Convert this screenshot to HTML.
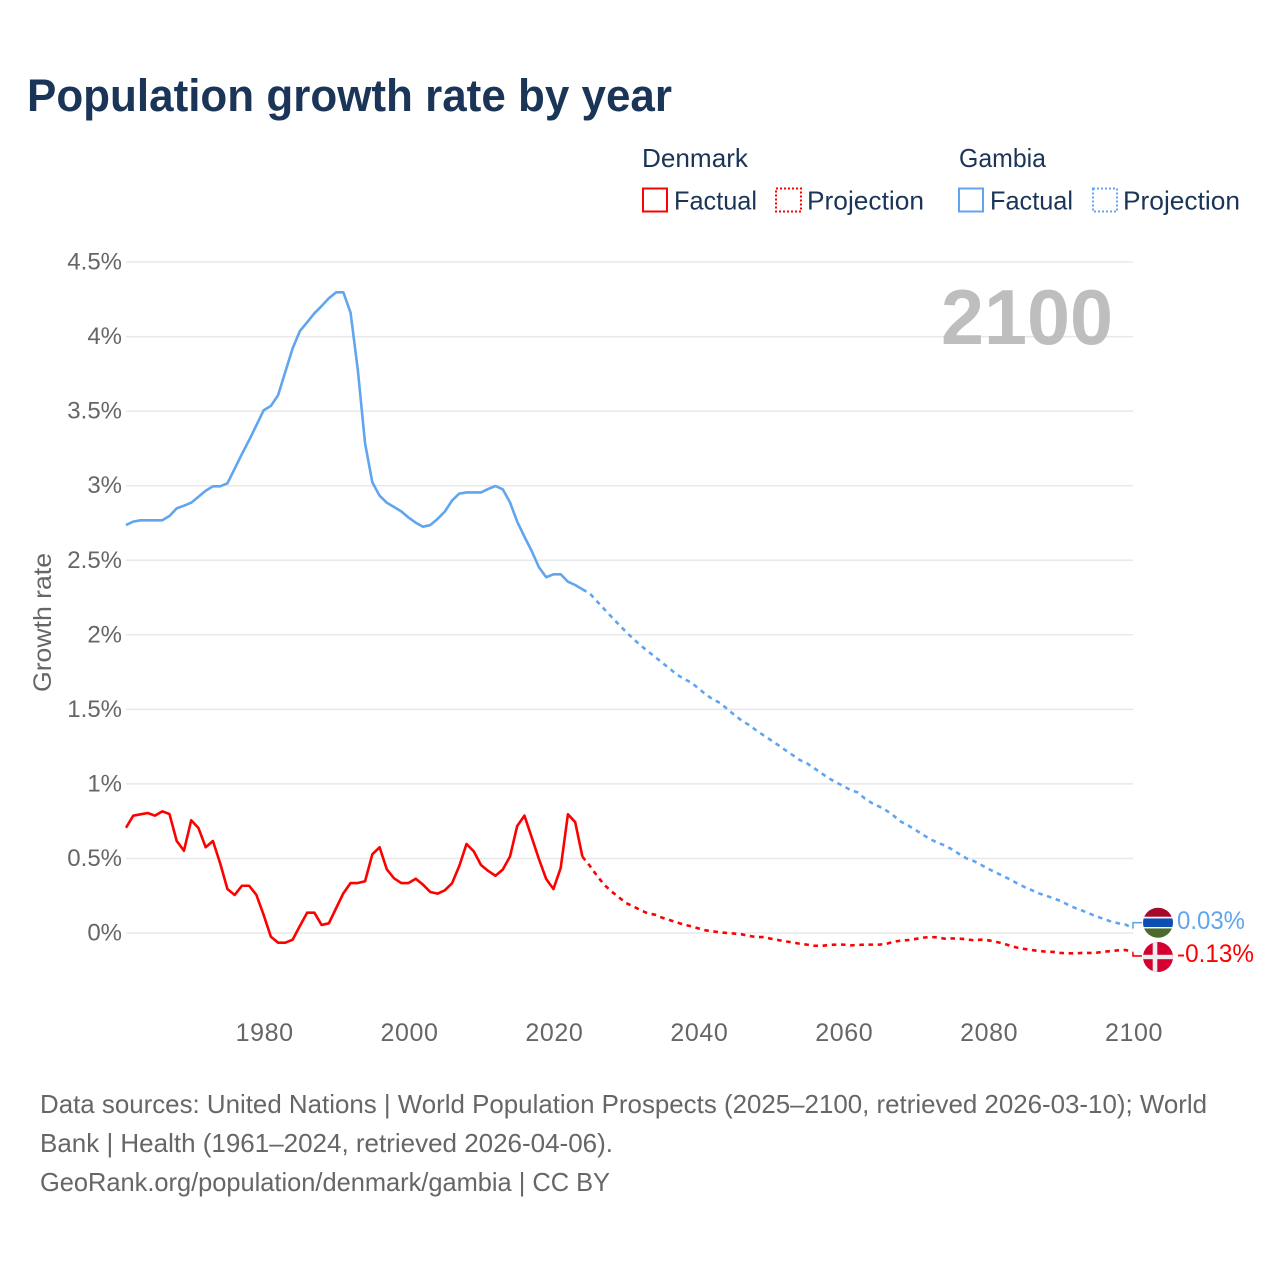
<!DOCTYPE html>
<html lang="en">
<head>
<meta charset="utf-8">
<title>Population growth rate by year</title>
<style>
html,body{margin:0;padding:0;background:#fff;width:1280px;height:1280px;overflow:hidden}
svg{display:block}
text{font-family:"Liberation Sans",sans-serif}
</style>
</head>
<body>
<svg id="chart" width="1280" height="1280" viewBox="0 0 1280 1280" xmlns="http://www.w3.org/2000/svg">
  <text x="27" y="111" font-size="45" font-weight="700" fill="#1a3557" textLength="645" lengthAdjust="spacingAndGlyphs">Population growth rate by year</text>

  <g font-size="26" fill="#1a3557">
    <text x="642" y="167" textLength="106" lengthAdjust="spacingAndGlyphs">Denmark</text>
    <text x="959" y="167" textLength="87" lengthAdjust="spacingAndGlyphs">Gambia</text>
    <rect x="643" y="188.5" width="24" height="23" fill="none" stroke="#ff0000" stroke-width="2"/>
    <text x="674" y="209.5" textLength="83" lengthAdjust="spacingAndGlyphs">Factual</text>
    <rect x="776" y="188.5" width="25" height="23" fill="none" stroke="#ff0000" stroke-width="2" stroke-dasharray="2 2"/>
    <text x="807" y="209.5" textLength="117" lengthAdjust="spacingAndGlyphs">Projection</text>
    <rect x="959" y="188.5" width="24" height="23" fill="none" stroke="#60a5ee" stroke-width="2"/>
    <text x="990" y="209.5" textLength="83" lengthAdjust="spacingAndGlyphs">Factual</text>
    <rect x="1093" y="188.5" width="24" height="23" fill="none" stroke="#60a5ee" stroke-width="2" stroke-dasharray="2 2"/>
    <text x="1123" y="209.5" textLength="117" lengthAdjust="spacingAndGlyphs">Projection</text>
  </g>

  <g id="grid"></g>
  <text x="941" y="344" font-size="78" font-weight="700" fill="#b9b9b9" fill-opacity="0.93" textLength="172" lengthAdjust="spacingAndGlyphs">2100</text>
  <g id="y-ticks"></g>
  <g id="x-ticks"></g>
  <text transform="translate(51,692) rotate(-90)" font-size="25" fill="#666" textLength="139" lengthAdjust="spacingAndGlyphs">Growth rate</text>
  <g id="series"></g>
  <g id="end-labels"></g>

  <g font-size="26" fill="#666">
    <text x="40" y="1113" textLength="1167" lengthAdjust="spacingAndGlyphs">Data sources: United Nations | World Population Prospects (2025–2100, retrieved 2026-03-10); World</text>
    <text x="40" y="1152" textLength="573" lengthAdjust="spacingAndGlyphs">Bank | Health (1961–2024, retrieved 2026-04-06).</text>
    <text x="40" y="1191" textLength="570" lengthAdjust="spacingAndGlyphs">GeoRank.org/population/denmark/gambia | CC BY</text>
  </g>
</svg>
<script>
const firstFactualYear = 1961;
const firstProjectionYear = 2024;
const yTickValues = [0, 0.5, 1, 1.5, 2, 2.5, 3, 3.5, 4, 4.5];
const yTickLabels = ["0%", "0.5%", "1%", "1.5%", "2%", "2.5%", "3%", "3.5%", "4%", "4.5%"];
const xTickValues = [1980, 2000, 2020, 2040, 2060, 2080, 2100];
const xTickLabels = ["1980", "2000", "2020", "2040", "2060", "2080", "2100"];

const denmarkFactual = [
  0.706, 0.787, 0.796, 0.805, 0.787, 0.816, 0.798, 0.617, 0.552, 0.756,
  0.704, 0.575, 0.617, 0.467, 0.295, 0.255, 0.317, 0.317, 0.255, 0.121,
  -0.025, -0.065, -0.065, -0.045, 0.047, 0.136, 0.136, 0.054, 0.065, 0.166,
  0.266, 0.335, 0.335, 0.347, 0.528, 0.575, 0.427, 0.367, 0.335, 0.335,
  0.364, 0.324, 0.275, 0.264, 0.286, 0.333, 0.449, 0.597, 0.548, 0.456,
  0.416, 0.384, 0.425, 0.512, 0.718, 0.787, 0.642, 0.496, 0.362, 0.295,
  0.436, 0.796, 0.744, 0.512
];
const denmarkProjection = [
  0.512, 0.452, 0.385, 0.324, 0.279, 0.241, 0.201, 0.179, 0.154, 0.132,
  0.123, 0.103, 0.087, 0.072, 0.056, 0.045, 0.031, 0.018, 0.011, 0.004,
  0, -0.004, -0.009, -0.02, -0.027, -0.027, -0.038, -0.047, -0.056, -0.063,
  -0.072, -0.078, -0.085, -0.087, -0.08, -0.078, -0.078, -0.083, -0.08, -0.078,
  -0.078, -0.078, -0.072, -0.058, -0.051, -0.047, -0.04, -0.031, -0.027, -0.029,
  -0.038, -0.036, -0.038, -0.042, -0.049, -0.045, -0.049, -0.058, -0.069, -0.085,
  -0.098, -0.107, -0.114, -0.121, -0.125, -0.127, -0.134, -0.136, -0.136, -0.134,
  -0.134, -0.132, -0.125, -0.121, -0.116, -0.114, -0.13
];
const gambiaFactual = [
  2.736, 2.759, 2.768, 2.768, 2.768, 2.768, 2.797, 2.848, 2.866, 2.886,
  2.926, 2.966, 2.996, 2.996, 3.016, 3.114, 3.212, 3.306, 3.405, 3.506,
  3.535, 3.608, 3.765, 3.921, 4.037, 4.096, 4.156, 4.205, 4.257, 4.297,
  4.297, 4.16, 3.776, 3.284, 3.023, 2.933, 2.886, 2.857, 2.828, 2.786,
  2.752, 2.725, 2.736, 2.777, 2.826, 2.9, 2.947, 2.955, 2.955, 2.955,
  2.978, 2.998, 2.976, 2.889, 2.759, 2.658, 2.562, 2.453, 2.386, 2.406,
  2.406, 2.356, 2.334, 2.305
];
const gambiaProjection = [
  2.305, 2.278, 2.225, 2.173, 2.121, 2.07, 2.021, 1.974, 1.93, 1.891,
  1.853, 1.813, 1.775, 1.735, 1.704, 1.681, 1.641, 1.601, 1.567, 1.543,
  1.502, 1.462, 1.424, 1.395, 1.359, 1.326, 1.294, 1.261, 1.227, 1.194,
  1.16, 1.138, 1.105, 1.071, 1.038, 1.011, 0.986, 0.959, 0.943, 0.901,
  0.87, 0.847, 0.82, 0.785, 0.746, 0.72, 0.691, 0.659, 0.63, 0.606,
  0.588, 0.561, 0.53, 0.501, 0.483, 0.458, 0.431, 0.407, 0.384, 0.36,
  0.333, 0.309, 0.288, 0.266, 0.25, 0.233, 0.215, 0.19, 0.168, 0.15,
  0.13, 0.11, 0.094, 0.076, 0.065, 0.056, 0.03
];
const endLabelTexts = ["0.03%", "-0.13%"];

const SVGNS = "http://www.w3.org/2000/svg";
const RED = "#ff0000";
const BLUE = "#60a5ee";
const TEXT_GRAY = "#666";

function xScale(year) { return 126 + (year - 1961) * (1133 - 126) / (2100 - 1961); }
function yScale(value) { return 933 - value * 149.1; }

function make(tag, attrs, parent) {
  const el = document.createElementNS(SVGNS, tag);
  for (const k in attrs) el.setAttribute(k, attrs[k]);
  parent.appendChild(el);
  return el;
}

const gridGroup = document.getElementById("grid");
const yTickGroup = document.getElementById("y-ticks");
yTickValues.forEach(function (v, i) {
  const line = make("line", { x1: 126, x2: 1133, y1: yScale(v), y2: yScale(v), stroke: "#e8e8e8", "stroke-width": 1.5 }, gridGroup);
  
  
  const label = make("text", { x: 122, y: yScale(v) + 7.5, "text-anchor": "end", "font-size": 24, fill: TEXT_GRAY }, yTickGroup);
  
  
  label.textContent = yTickLabels[i];
});

const xTickGroup = document.getElementById("x-ticks");
xTickValues.forEach(function (v, i) {
  const label = make("text", { x: xScale(v) + 1, y: 1041, "text-anchor": "middle", "font-size": 25, "letter-spacing": 0.6, fill: TEXT_GRAY }, xTickGroup);
  
  
  label.textContent = xTickLabels[i];
});

function pathFor(values, startYear) {
  return values.map(function (v, i) {
    return (i ? "L" : "M") + xScale(startYear + i).toFixed(2) + " " + yScale(v).toFixed(2);
  }).join(" ");
}

const seriesGroup = document.getElementById("series");

const gambiaFactualLine = make("path", { d: pathFor(gambiaFactual, firstFactualYear), fill: "none", stroke: BLUE, "stroke-width": 2.6, "stroke-linejoin": "round" }, seriesGroup);



const gambiaProjectionLine = make("path", { d: pathFor(gambiaProjection, firstProjectionYear), fill: "none", stroke: BLUE, "stroke-width": 2.6, "stroke-dasharray": "4.6 4.6" }, seriesGroup);



const denmarkFactualLine = make("path", { d: pathFor(denmarkFactual, firstFactualYear), fill: "none", stroke: RED, "stroke-width": 2.6, "stroke-linejoin": "round" }, seriesGroup);



const denmarkProjectionLine = make("path", { d: pathFor(denmarkProjection, firstProjectionYear), fill: "none", stroke: RED, "stroke-width": 2.6, "stroke-dasharray": "4.6 4.6" }, seriesGroup);



/* End labels follow the last value of each projection, nudged apart */
const endGroup = document.getElementById("end-labels");
const xEnd = xScale(2100);
const gmEnd = gambiaProjection[gambiaProjection.length - 1];
const dkEnd = denmarkProjection[denmarkProjection.length - 1];
const gmAnchor = yScale(gmEnd) - 5.8;
const dkAnchor = yScale(dkEnd) + 3.6;

const gmConnector = make("polyline", { points: xEnd + "," + yScale(gmEnd) + " " + xEnd + "," + gmAnchor + " 1142," + gmAnchor, fill: "none", stroke: BLUE, "stroke-width": 1.6 }, endGroup);



const dkConnector = make("polyline", { points: xEnd + "," + yScale(dkEnd) + " " + xEnd + "," + dkAnchor + " 1142," + dkAnchor, fill: "none", stroke: RED, "stroke-width": 1.6 }, endGroup);



const gmFlag = make("g", { transform: "translate(0," + gmAnchor + ")" }, endGroup);


const gmClipWrap = make("g", { "clip-path": "url(#flag-clip-gm-local)" }, gmFlag);
const gmLocal = make("clipPath", { id: "flag-clip-gm-local" }, gmFlag);
make("circle", { cx: 1158, cy: 0, r: 15 }, gmLocal);
make("rect", { x: 1143, y: -16, width: 30, height: 32, fill: "#ffffff" }, gmClipWrap);
make("rect", { x: 1143, y: -16, width: 30, height: 10, fill: "#a50a2b" }, gmClipWrap);
make("rect", { x: 1143, y: -4.3, width: 30, height: 8.6, fill: "#0c4eb3" }, gmClipWrap);
make("rect", { x: 1143, y: 5.7, width: 30, height: 10.3, fill: "#4a6b2b" }, gmClipWrap);

const dkFlag = make("g", { transform: "translate(0," + (dkAnchor + 1) + ")" }, endGroup);


const dkClipWrap = make("g", { "clip-path": "url(#flag-clip-dk-local)" }, dkFlag);
const dkLocal = make("clipPath", { id: "flag-clip-dk-local" }, dkFlag);
make("circle", { cx: 1158, cy: 0, r: 15 }, dkLocal);
make("rect", { x: 1143, y: -16, width: 30, height: 32, fill: "#d4002f" }, dkClipWrap);
make("rect", { x: 1143, y: -2.2, width: 30, height: 4.4, fill: "#eeeeee" }, dkClipWrap);
make("rect", { x: 1152.7, y: -16, width: 4.6, height: 32, fill: "#eeeeee" }, dkClipWrap);

const gmLabel = make("text", { x: 1177, y: gmAnchor + 6.3, "font-size": 25, fill: BLUE, textLength: 68, lengthAdjust: "spacingAndGlyphs" }, endGroup);


gmLabel.textContent = endLabelTexts[0];

const dkLabel = make("text", { x: 1177, y: dkAnchor + 6, "font-size": 25, fill: RED, textLength: 77, lengthAdjust: "spacingAndGlyphs" }, endGroup);


dkLabel.textContent = endLabelTexts[1];
</script>
</body>
</html>
